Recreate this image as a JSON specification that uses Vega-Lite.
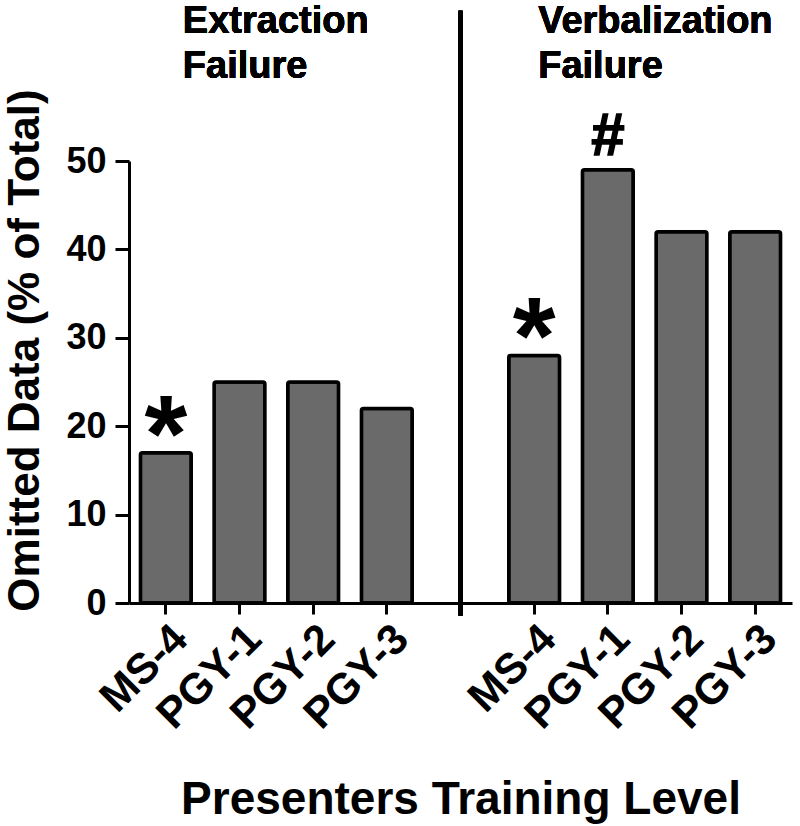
{
  "$schema": "https://vega.github.io/schema/vega-lite/v6.json",
  "width": 663,
  "height": 442,
  "autosize": "none",
  "padding": {"left": 129, "top": 161, "right": 8, "bottom": 223},
  "background": "white",
  "config": {
    "view": {"stroke": null},
    "font": "Liberation Sans",
    "axis": {"grid": false, "domainColor": "black", "tickColor": "black", "labelColor": "black", "titleColor": "black", "labelFont": "Liberation Sans", "titleFont": "Liberation Sans", "labelFontWeight": "bold", "titleFontWeight": "bold"}
  },
  "data": {
    "values": [
      {"key": "E MS-4", "group": "Extraction Failure", "level": "MS-4", "value": 17, "note": "*"},
      {"key": "E PGY-1", "group": "Extraction Failure", "level": "PGY-1", "value": 25, "note": ""},
      {"key": "E PGY-2", "group": "Extraction Failure", "level": "PGY-2", "value": 25, "note": ""},
      {"key": "E PGY-3", "group": "Extraction Failure", "level": "PGY-3", "value": 22, "note": ""},
      {"key": "V MS-4", "group": "Verbalization Failure", "level": "MS-4", "value": 28, "note": "*"},
      {"key": "V PGY-1", "group": "Verbalization Failure", "level": "PGY-1", "value": 49, "note": "#"},
      {"key": "V PGY-2", "group": "Verbalization Failure", "level": "PGY-2", "value": 42, "note": ""},
      {"key": "V PGY-3", "group": "Verbalization Failure", "level": "PGY-3", "value": 42, "note": ""}
    ]
  },
  "encoding": {
    "x": {
      "field": "key",
      "type": "nominal",
      "sort": null,
      "scale": {"domain": ["E MS-4", "E PGY-1", "E PGY-2", "E PGY-3", "gap", "V MS-4", "V PGY-1", "V PGY-2", "V PGY-3"], "paddingInner": 0.31, "paddingOuter": 0.155},
      "axis": {
        "title": "Presenters Training Level",
        "titleFontSize": 46,
        "titleBaseline": "alphabetic",
        "titleY": 210,
        "labelExpr": "datum.value == 'gap' ? '' : slice(datum.value, 2)",
        "labelAngle": -45,
        "labelFontSize": 43,
        "labelPadding": 3,
        "tickSize": 11,
        "tickWidth": 3,
        "domainWidth": 3
      }
    },
    "y": {
      "field": "value",
      "type": "quantitative",
      "scale": {"domain": [0, 50], "nice": false},
      "axis": {
        "title": "Omitted Data (% of Total)",
        "titleFontSize": 44,
        "titleX": -82,
        "titleY": 189,
        "values": [0, 10, 20, 30, 40, 50],
        "labelFontSize": 36,
        "labelPadding": 9,
        "tickSize": 14,
        "tickWidth": 3,
        "domainWidth": 3
      }
    }
  },
  "layer": [
    {
      "mark": {"type": "bar", "fill": "#6a6a6a", "stroke": "black", "strokeWidth": 3.5, "cornerRadius": 2}
    },
    {
      "transform": [{"filter": "datum.note == '*'"}],
      "mark": {"type": "text", "fontSize": 110, "fontWeight": "bold", "baseline": "alphabetic", "dy": 18, "color": "black"},
      "encoding": {"text": {"field": "note"}}
    },
    {
      "transform": [{"filter": "datum.note == '#'"}],
      "mark": {"type": "text", "fontSize": 60, "fontWeight": "bold", "baseline": "alphabetic", "dy": -15, "color": "black", "stroke": "black", "strokeWidth": 1.5},
      "encoding": {"text": {"field": "note"}}
    },
    {
      "mark": {"type": "rule", "color": "black", "strokeWidth": 4},
      "encoding": {"x": {"datum": "gap"}, "y": {"datum": 67}, "y2": {"datum": -1.4}}
    },
    {
      "mark": {"type": "text", "fontSize": 38, "fontWeight": "bold", "align": "left", "baseline": "alphabetic", "lineHeight": 45, "dx": 17, "color": "black"},
      "encoding": {"x": {"datum": "E MS-4"}, "y": {"datum": 64.5}, "text": {"value": ["Extraction", "Failure"]}}
    },
    {
      "mark": {"type": "text", "fontSize": 38, "fontWeight": "bold", "align": "left", "baseline": "alphabetic", "lineHeight": 45, "dx": 4, "color": "black"},
      "encoding": {"x": {"datum": "V MS-4"}, "y": {"datum": 64.5}, "text": {"value": ["Verbalization", "Failure"]}}
    }
  ]
}
